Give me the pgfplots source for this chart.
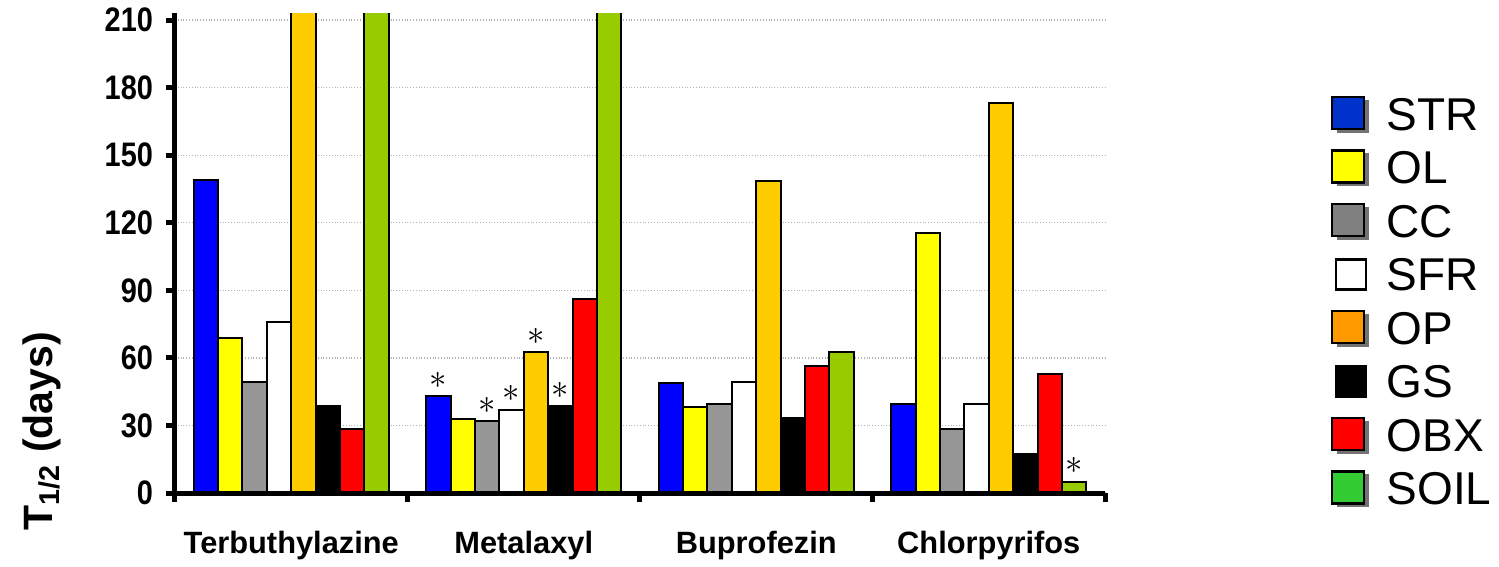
\documentclass[border=0pt]{standalone}
\usepackage{fontspec}
\setmainfont{Liberation Sans}
\usepackage{graphicx}
\usepackage{pgfplots}
\pgfplotsset{compat=1.18}
\definecolor{cSTR}{RGB}{0,0,255}
\definecolor{cOL}{RGB}{255,255,0}
\definecolor{cCC}{RGB}{150,150,150}
\definecolor{cSFR}{RGB}{255,255,255}
\definecolor{cOP}{RGB}{255,204,0}
\definecolor{cGS}{RGB}{0,0,0}
\definecolor{cOBX}{RGB}{255,0,0}
\definecolor{cSOIL}{RGB}{153,204,0}
\definecolor{lSTR}{RGB}{0,51,204}
\definecolor{lCC}{RGB}{128,128,128}
\definecolor{lOP}{RGB}{255,153,0}
\definecolor{lSOIL}{RGB}{51,204,51}
\pgfplotsset{
  legshadow/.style={legend image code/.code={
    \fill[black!55] (2.5pt,-9.5pt) rectangle (18pt,6.5pt);
    \draw[##1, line width=1.2pt, draw=black] (0pt,-8pt) rectangle (16pt,8pt);}},
  legplain/.style={legend image code/.code={
    \path[draw=none, fill=none] (0pt,-1pt) rectangle (18pt,1pt);
    \draw[##1, line width=1.2pt, draw=black] (2pt,-8pt) rectangle (17pt,7pt);}},
  mybar/.style={fill=#1, draw=black, line width=1pt, forget plot},
}
\begin{document}
\begin{tikzpicture}
\begin{axis}[
  scale only axis, width=465pt, height=239.9pt,
  clip mode=individual,
  ymin=0, ymax=213, xmin=-0.5, xmax=3.5,
  ybar, bar width=12.2pt,
  axis x line*=bottom, axis y line*=left,
  axis line style={line width=2.5pt},
  tick align=outside,
  ytick={0,30,...,210},
  yticklabel={\scalebox{0.85}[1]{\pgfmathprintnumber{\tick}}},
  yticklabel style={xshift=-3pt},
  ymajorgrids, grid style={densely dotted, black!30, line width=0.6pt},
  ytick style={line width=2.5pt, black}, major tick length=4.5pt,
  xtick={-0.5,0.5,1.5,2.5,3.5}, xticklabels={},
  xtick style={line width=2.5pt, black},
  extra x ticks={0,1,2,3},
  extra x tick labels={Terbuthylazine,Metalaxyl,Buprofezin,Chlorpyrifos},
  extra x tick style={grid=none, major tick length=0pt},
  xticklabel style={font=\fontsize{15.4}{16}\selectfont\bfseries, yshift=-15.5pt},
  yticklabel style={font=\fontsize{17}{18}\selectfont\bfseries},
  /pgf/number format/assume math mode=true,
  nodes near coords, point meta=explicit symbolic,
  nodes near coords style={font=\fontsize{16}{16}\selectfont, inner sep=0pt, anchor=south, yshift=3.5pt},
  legend style={draw=none, at={(rel axis cs:1.2431,0.84)}, anchor=north west,
    inner sep=0pt, outer sep=0pt,
    font=\fontsize{23}{27}\selectfont, legend cell align=left,
    nodes={text height=18pt, text depth=1pt, inner xsep=0pt, inner ysep=2pt}, row sep=3.75pt,
    /tikz/every odd column/.append style={column sep=9pt}},
]
\path (rel axis cs:-0.18817,-0.13759) rectangle (rel axis cs:1.42366,1.02773);
\addlegendimage{legshadow, fill=lSTR}\addlegendentry{STR}
\addlegendimage{legshadow, fill=cOL}\addlegendentry{OL}
\addlegendimage{legshadow, fill=lCC}\addlegendentry{CC}
\addlegendimage{legplain, fill=white}\addlegendentry{SFR}
\addlegendimage{legshadow, fill=lOP}\addlegendentry{OP}
\addlegendimage{legplain, fill=black}\addlegendentry{GS}
\addlegendimage{legshadow, fill=cOBX}\addlegendentry{OBX}
\addlegendimage{legshadow, fill=lSOIL}\addlegendentry{SOIL}
% STR
\addplot[mybar=cSTR, bar shift=-42.7pt] coordinates {(0,139) [{}] (1,43) [$\ast$] (2,49) [{}] (3,39.5) [{}]};
% OL
\addplot[mybar=cOL, bar shift=-30.5pt] coordinates {(0,69) [{}] (1,33) [{}] (2,38) [{}] (3,115.5) [{}]};
% CC
\addplot[mybar=cCC, bar shift=-18.3pt] coordinates {(0,49.5) [{}] (1,32) [$\ast$] (2,39.5) [{}] (3,28.5) [{}]};
% SFR
\addplot[mybar=cSFR, bar shift=-6.1pt] coordinates {(0,76) [{}] (1,37) [$\ast$] (2,49.5) [{}] (3,39.5) [{}]};
% OP
\addplot[mybar=cOP, bar shift=6.1pt] coordinates {(0,215) [{}] (1,62.5) [$\ast$] (2,138.5) [{}] (3,173) [{}]};
% GS
\addplot[mybar=cGS, bar shift=18.3pt] coordinates {(0,38.5) [{}] (1,38.5) [$\ast$] (2,33.5) [{}] (3,17.5) [{}]};
% OBX
\addplot[mybar=cOBX, bar shift=30.5pt] coordinates {(0,28.5) [{}] (1,86) [{}] (2,56.5) [{}] (3,53) [{}]};
% SOIL
\addplot[mybar=cSOIL, bar shift=42.7pt] coordinates {(0,215) [{}] (1,215) [{}] (2,62.5) [{}] (3,5) [$\ast$]};
\draw[line width=2.5pt] (rel axis cs:0,0) -- (rel axis cs:1,0);
\node[font=\fontsize{20.5}{22}\selectfont\bfseries, xshift=-66.5pt, rotate=90, anchor=center]
  at (rel axis cs:0,0.129) {T\textsubscript{1/2} (days)};
\end{axis}
\end{tikzpicture}
\end{document}
